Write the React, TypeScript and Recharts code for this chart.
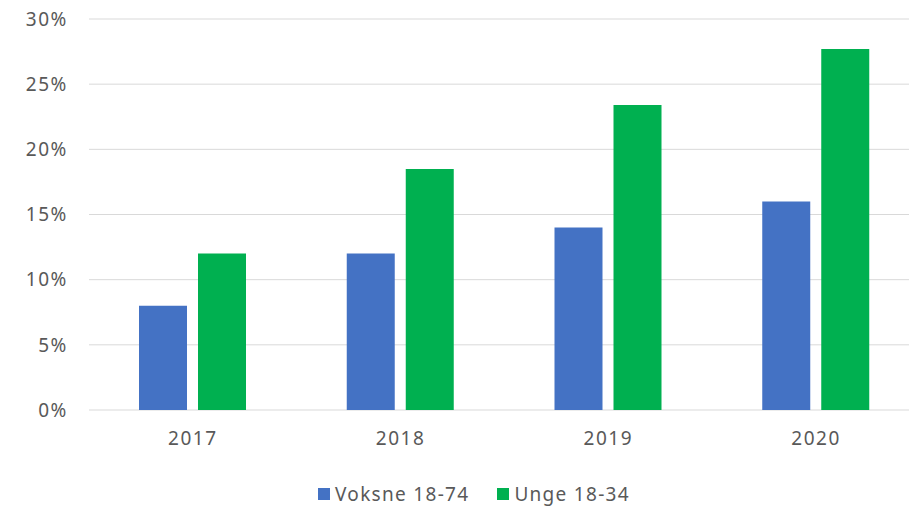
import { BarChart, Bar, XAxis, YAxis, CartesianGrid, Legend } from 'recharts'

const years = ['2017', '2018', '2019', '2020']
const voksne = [8, 12, 14, 16]
const unge = [12, 18.5, 23.4, 27.7]
const yTicks = [0, 5, 10, 15, 20, 25, 30]
const seriesOrder = ['Voksne 18-74', 'Unge 18-34']

const data = years.map((year, i) => ({ year, voksne: voksne[i], unge: unge[i] }))

const FONT = '"Noto Sans", "Open Sans", sans-serif'
const TEXT = '#595959'
const tickStyle = { fill: TEXT, fontSize: 19, fontFamily: FONT, letterSpacing: 1.6 }

function LegendContent({ payload }: any) {
  const items = [...(payload || [])].sort((a: any, b: any) => seriesOrder.indexOf(a.value) - seriesOrder.indexOf(b.value))
  return (
    <div style={{ height: 30, display: 'flex', alignItems: 'center', justifyContent: 'center', fontFamily: FONT, fontSize: 19, letterSpacing: 1.3, color: TEXT, paddingLeft: 28 }}>
      {items.map((p: any, i: number) => (
        <div key={i} style={{ display: 'flex', alignItems: 'center', marginRight: i === 0 ? 28 : 0 }}>
          <span style={{ width: 12, height: 12, background: p.color, display: 'inline-block', marginRight: 5 }} />
          <span>{p.value}</span>
        </div>
      ))}
    </div>
  )
}

export default function App() {
  return (
    <div style={{ position: 'absolute', left: 0, top: 0, width: 909, height: 509, overflow: 'hidden', background: '#fff' }}>
      <BarChart
        width={920}
        height={509}
        data={data}
        margin={{ top: 19, right: 0, bottom: 0, left: 0 }}
        barGap={11}
        barSize={48}
      >
        <CartesianGrid stroke="#d9d9d9" vertical={false} />
        <XAxis
          dataKey="year"
          axisLine={false}
          tickLine={false}
          tickSize={0}
          tickMargin={22}
          height={69}
          tick={tickStyle}
        />
        <YAxis
          domain={[0, 30]}
          ticks={yTicks}
          axisLine={false}
          tickLine={false}
          tickSize={0}
          tickMargin={21}
          width={89}
          tickFormatter={v => `${v}%`}
          tick={tickStyle}
        />
        <Legend verticalAlign="bottom" content={<LegendContent />} wrapperStyle={{ bottom: 0 }} />
        <Bar dataKey="voksne" name="Voksne 18-74" fill="#4472C4" isAnimationActive={false} />
        <Bar dataKey="unge" name="Unge 18-34" fill="#00B050" isAnimationActive={false} />
      </BarChart>
    </div>
  )
}
